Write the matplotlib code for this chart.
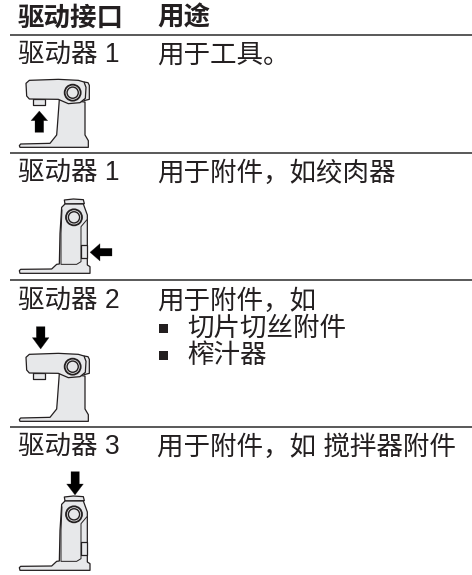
import matplotlib
matplotlib.use("Agg")
import matplotlib.pyplot as plt
from matplotlib.patches import Circle, Polygon, Rectangle

plt.rcParams["font.family"] = ["Liberation Sans", "Noto Sans CJK SC"]

headers = ["驱动接口", "用途"]
ports = ["驱动器 1", "驱动器 1", "驱动器 2", "驱动器 3"]
uses = ["用于工具。", "用于附件，如绞肉器", "用于附件，如", "用于附件，如 搅拌器附件"]
bullets = ["切片切丝附件", "榨汁器"]
row_text_y = [55.5, 174, 301.5, 447.5]
bullet_y = [329, 356]
rule_y = [34.5, 153, 280, 426.5]

INK = "#231f20"
FILL = "#e7e8ea"
FS = 19.1


def shape(ax, pts, dx, dy, fc=FILL, lw=0.9, z=2):
    # outlines were traced on a 3x crop, so scale back to pixels here
    xy = [(x / 3 + dx, y / 3 + dy) for x, y in pts]
    ax.add_patch(Polygon(xy, closed=True, fc=fc, ec=INK, lw=lw, zorder=z, joinstyle="round"))


def ring(ax, cx, cy, dx, dy):
    ax.add_patch(Circle((cx / 3 + dx, cy / 3 + dy), 8, fc=FILL, ec=INK, lw=1.3, zorder=4))
    ax.add_patch(Circle((cx / 3 + dx, cy / 3 + dy), 5.6, fc=FILL, ec=INK, lw=1.0, zorder=5))


def side_icon(ax, dy):
    shape(ax, [(252, 246), (264, 248), (268, 256), (268, 298), (252, 302)], 0, dy)
    shape(ax, [(100, 296), (136, 296), (136, 316), (100, 316)], 0, dy)
    shape(ax, [(178, 298), (172, 380), (170, 405), (150, 430), (62, 432), (58, 437), (60, 442),
               (265, 442), (265, 422), (255, 405), (255, 306)], 0, dy)
    shape(ax, [(88, 241), (175, 238), (235, 241), (252, 246), (258, 262), (256, 295), (240, 308),
               (205, 311), (175, 298), (88, 297), (80, 288), (78, 250)], 0, dy, z=3)
    ring(ax, 218, 278, 0, dy)


def front_icon(ax, dy):
    shape(ax, [(193, 600), (220, 597), (250, 599), (253, 611), (195, 612)], 0, dy)
    shape(ax, [(185, 622), (195, 612), (250, 612), (262, 645), (262, 795), (270, 800), (270, 820),
               (60, 820), (58, 812), (62, 808), (155, 807), (170, 793), (178, 792), (180, 700)], 0, dy)
    # inner panel: open on top, no edge, then its three sides as a line
    shape(ax, [(186, 630), (250, 630), (243, 680), (243, 785), (230, 793), (186, 793)], 0, dy, z=3, lw=0)
    panel_x = [(186, 630), (183, 700), (183, 793), (230, 793), (243, 785), (243, 680), (260, 660)]
    ax.plot([x / 3 for x, _ in panel_x], [y / 3 + dy for _, y in panel_x], color=INK, lw=0.7, zorder=3)
    shape(ax, [(243, 735), (262, 735), (262, 773), (243, 773)], 0, dy, z=4)
    ring(ax, 222, 652, 0, dy)


def arrow(ax, pts, dy=0):
    shape(ax, pts, 0, dy, fc="black", lw=0.2, z=6)


fig = plt.figure(figsize=(4.72, 5.75), dpi=100)
ax = fig.add_axes([0, 0, 1, 1])
ax.set_xlim(0, 472)
ax.set_ylim(575, 0)
ax.axis("off")

ax.text(18, 19, headers[0], fontsize=FS, fontweight="bold", color=INK, va="center")
ax.text(157, 19, headers[1], fontsize=FS, fontweight="bold", color=INK, va="center")

for y in rule_y:
    ax.plot([10, 472], [y, y], color="#2b2b2b", lw=1.1, solid_capstyle="butt")

for port, use, y in zip(ports, uses, row_text_y):
    ax.text(18, y, port, fontsize=FS, color=INK, va="center")
    ax.text(157, y, use, fontsize=FS, color=INK, va="center")

for y, label in zip(bullet_y, bullets):
    ax.add_patch(Rectangle((158.5, y - 5.5), 9, 9, fc=INK, ec="none"))
    ax.text(187, y, label, fontsize=FS, color=INK, va="center")

side_icon(ax, 0)
side_icon(ax, 274)
front_icon(ax, 0)
front_icon(ax, 297)

arrow(ax, [(118, 333), (143, 362), (131, 362), (131, 397), (105, 397), (105, 362), (93, 362)])
arrow(ax, [(270, 757), (300, 731), (300, 745), (336, 745), (336, 768), (300, 768), (300, 783)])
arrow(ax, [(109, 125), (135, 125), (135, 158), (147, 158), (122, 192), (97, 158), (109, 158)], 285)
arrow(ax, [(213, 560), (238, 560), (238, 597), (250, 597), (225, 630), (200, 597), (213, 597)], 285)

fig.savefig("out.png", dpi=100)
